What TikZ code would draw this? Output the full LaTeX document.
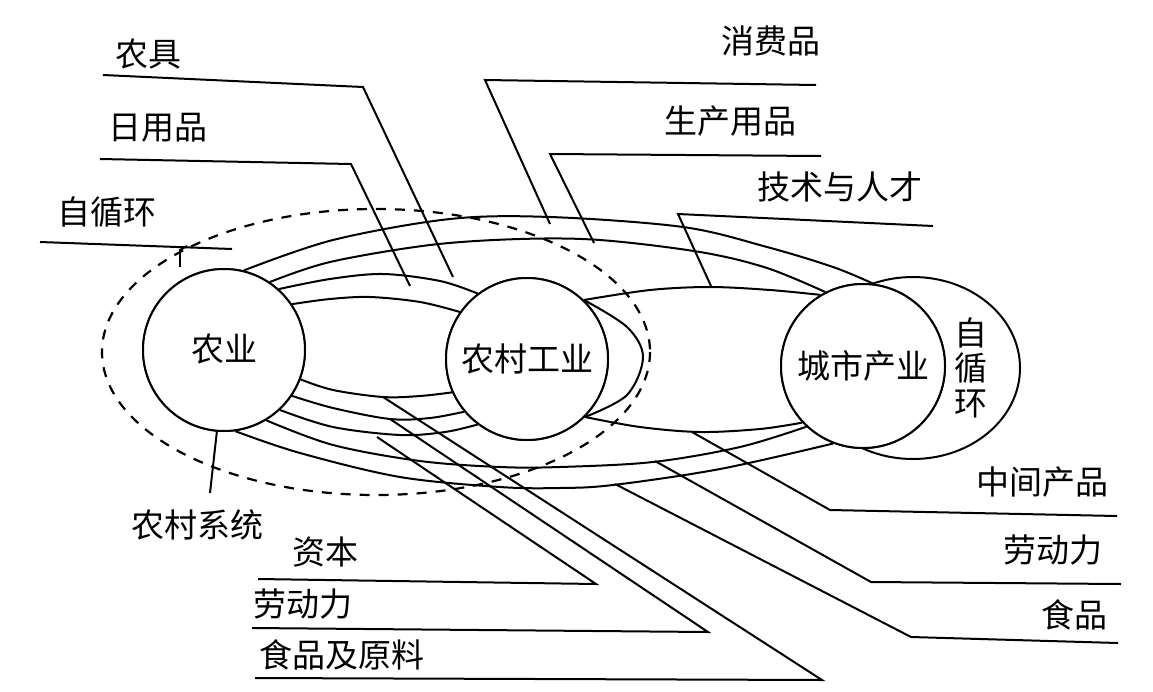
\documentclass[tikz,border=0pt]{standalone}
\usepackage{fontspec}
\newfontfamily\cjk{Noto Sans CJK SC}
\begin{document}
\begin{tikzpicture}[x=1pt,y=-1pt,line width=2pt,
  lbl/.style={font=\cjk\fontsize{33}{35}\selectfont, inner sep=0pt},
  unit/.style={circle, draw, fill=white, inner sep=0pt, font=\cjk\fontsize{33}{35}\selectfont},
  flow/.style={line width=2pt},
  lead/.style={line width=2pt},
  sysline/.style={line width=2.2pt, dash pattern=on 10pt off 9pt},
  smoothpath/.style={smooth, tension=0.55}]
\useasboundingbox (0,0) rectangle (1153,691);
\fill[white] (0,0) rectangle (1153,691);

% self-circulation loop of urban industry (drawn behind the circle)
\draw (913,368) ellipse [x radius=107, y radius=91];

% rural system boundary
\draw[sysline] (376,352) ellipse [x radius=274, y radius=143];

% circles
\path (224,350) coordinate (Ac) (527,359) coordinate (Bc) (863,366) coordinate (Cc);
\node[unit, minimum size=162pt] (A) at (Ac) {\raisebox{5pt}{农业}};
\node[unit, minimum size=162pt] (B) at (Bc) {农村工业};
\node[unit, minimum size=164pt] (C) at (Cc) {城市产业};

% long flows agriculture <-> urban
\draw[flow] plot[smoothpath] coordinates {(A.76) (333,240) (450,219) (550,217) (683,227) (767,247) (833,267) (C.83)};
\draw[flow] plot[smoothpath] coordinates {(A.56) (330,262) (430,245) (520,239) (600,240) (700,252) (767,268) (C.117)};
\draw[flow] plot[smoothpath] coordinates {(A.-59) (333,445) (420,461) (500,467) (560,467) (653,462) (740,447) (C.227)};
\draw[flow] plot[smoothpath] coordinates {(A.-82) (300,453) (400,477) (500,487) (560,488) (613,485) (720,469) (C.249)};

% rural industry <-> urban
\draw[flow] plot[smoothpath] coordinates {(B.46) (650,290) (710,287) (770,290) (C.121)};
\draw[flow] plot[smoothpath] coordinates {(B.-45) (640,427) (700,432) (760,429) (C.223)};
% rural industry self loop
\draw[flow] plot[smoothpath] coordinates {(B.46) (627,327) (643,357) (627,395) (B.-45)};

% agriculture <-> rural industry
\draw[flow] plot[smoothpath] coordinates {(A.48) (330,279) (383,274) (440,281) (B.127)};
\draw[flow] plot[smoothpath] coordinates {(A.34) (330,299) (370,297) (420,302) (B.145)};
\draw[flow] plot[smoothpath] coordinates {(A.-21) (333,390) (383,397) (420,396) (B.204)};
\draw[flow] plot[smoothpath] coordinates {(A.-34) (333,408) (390,419) (430,418) (B.220)};
\draw[flow] plot[smoothpath] coordinates {(A.-47) (333,427) (400,435) (445,432) (B.233)};

% redraw circles on top
\node[unit, minimum size=162pt] at (Ac) {\raisebox{5pt}{农业}};
\node[unit, minimum size=162pt] at (Bc) {农村工业};
\node[unit, minimum size=164pt] at (Cc) {城市产业};

% vertical label of urban self loop
\node[lbl, align=center, font=\cjk\fontsize{33}{35}\selectfont] (self) at (971,368) {自\\循\\环};

% labels
\node[lbl] (t1) at (148,54) {农具};
\node[lbl] (t2) at (158,128) {日用品};
\node[lbl] (t3) at (107,212) {自循环};
\node[lbl] (t4) at (771,41) {消费品};
\node[lbl] (t5) at (730,121) {生产用品};
\node[lbl] (t6) at (840,187) {技术与人才};
\node[lbl] (t7) at (197,525) {农村系统};
\node[lbl] (t8) at (325,552) {资本};
\node[lbl] (t9) at (303,604) {劳动力};
\node[lbl] (t10) at (342,655) {食品及原料};
\node[lbl] (t11) at (1042,482) {中间产品};
\node[lbl] (t12) at (1053,550) {劳动力};
\node[lbl] (t13) at (1074,615) {食品};

% leader end points on flows
\coordinate (e1) at (453,277);
\coordinate (e2) at (410,286);
\coordinate (e4) at (550,224);
\coordinate (e5) at (594,243);
\coordinate (e6) at (711,286);
\coordinate (e8) at (377,437);
\coordinate (e9) at (390,419);
\coordinate (e10) at (383,397);
\coordinate (e11) at (692,432);
\coordinate (e12) at (655,461);
\coordinate (e13) at (615,484);
\coordinate (e7) at (210,493);

% leaders
\draw[lead] (103,75) -- (363,87) -- (e1);
\draw[lead] (100,159) -- (351,164) -- (e2);
\draw[lead] (40,242) -- (232,249);
\draw[lead] (180,249) -- (180,267);
\draw[lead] (180,250) -- (187,246);
\draw[lead] (816,85) -- (485,80) -- (e4);
\draw[lead] (821,156) -- (550,154) -- (e5);
\draw[lead] (933,226) -- (678,214) -- (e6);
\draw[lead] (A.-95) -- (e7);
\draw[lead] (258,579) -- (596,584) -- (e8);
\draw[lead] (252,628) -- (708,632) -- (e9);
\draw[lead] (255,678) -- (822,680) -- (e10);
\draw[lead] (1117,516) -- (830,510) -- (e11);
\draw[lead] (1121,584) -- (871,582) -- (e12);
\draw[lead] (1118,643) -- (911,637) -- (e13);
\end{tikzpicture}
\end{document}
